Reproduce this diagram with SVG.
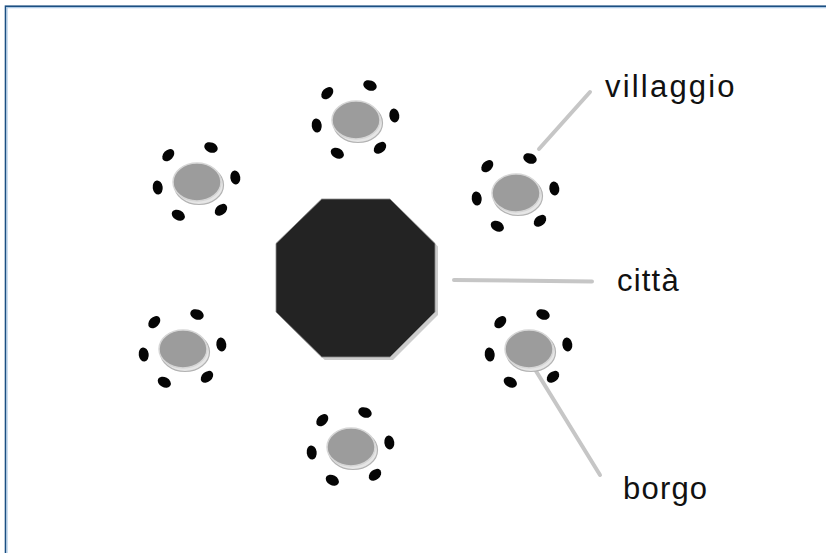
<svg xmlns="http://www.w3.org/2000/svg" xmlns:xlink="http://www.w3.org/1999/xlink" width="826" height="553" viewBox="0 0 826 553">
  <style>
    .frame-outer { fill: none; stroke: #1b4f82; stroke-width: 1.6; }
    .frame-inner { fill: none; stroke: #9dbfe0; stroke-width: 1; }
    .conn { stroke: #c6c6c6; stroke-width: 4; stroke-linecap: round; fill: none; }
    .lbl { font-family: "Liberation Sans", Arial, sans-serif; font-size: 31px; letter-spacing: 1.2px; fill: #111111; }
    .dot { fill: #050505; }
    .disc { fill: #9c9c9c; stroke: #d6d6d6; stroke-width: 1.5; }
    .disc-rim { fill: #e6e6e6; stroke: #b3b3b3; stroke-width: 1.2; }
    .oct { fill: #232323; stroke: #8a8a8a; stroke-width: 0.8; }
    .oct-shadow { fill: #cdcdcd; }
  </style>
  <defs>
    <g id="village">
      <ellipse class="disc-rim" cx="2" cy="3" rx="24.5" ry="19.5"/>
      <ellipse class="disc" cx="0" cy="0" rx="24" ry="19"/>
      <ellipse class="dot" cx="-28.7" cy="-26.8" rx="7" ry="5" transform="rotate(-47 -28.7 -26.8)"/>
      <ellipse class="dot" cx="14" cy="-34.5" rx="7" ry="5" transform="rotate(22 14 -34.5)"/>
      <ellipse class="dot" cx="38.3" cy="-4.5" rx="7" ry="5" transform="rotate(83 38.3 -4.5)"/>
      <ellipse class="dot" cx="24" cy="27.8" rx="7" ry="5" transform="rotate(-41 24 27.8)"/>
      <ellipse class="dot" cx="-18.7" cy="33.2" rx="7" ry="5" transform="rotate(29 -18.7 33.2)"/>
      <ellipse class="dot" cx="-39.3" cy="5.5" rx="7" ry="5" transform="rotate(82 -39.3 5.5)"/>
    </g>
  </defs>

  <rect width="826" height="553" fill="#ffffff"/>
  <rect class="frame-outer" x="5.5" y="6.2" width="900" height="600"/>
  <rect class="frame-inner" x="7" y="7.7" width="900" height="600"/>

  <g id="connectors">
    <line class="conn" x1="539" y1="149" x2="590" y2="92"/>
    <line class="conn" x1="454" y1="280" x2="592" y2="281.5"/>
    <line class="conn" x1="536" y1="371" x2="600" y2="475"/>
  </g>

  <g id="citta">
    <polygon class="oct-shadow" points="324.7,202 393,202 438,246.5 438,315 393,360 324.7,360 279,315 279,246.5"/>
    <polygon class="oct" points="321.7,199 390,199 435,243.5 435,312 390,357 321.7,357 276,312 276,243.5"/>
  </g>

  <g id="village-top"><use href="#village" xlink:href="#village" x="356" y="120"/></g>
  <g id="village-top-left"><use href="#village" xlink:href="#village" x="197" y="182"/></g>
  <g id="village-top-right"><use href="#village" xlink:href="#village" x="516" y="193"/></g>
  <g id="village-bottom-left"><use href="#village" xlink:href="#village" x="183" y="349"/></g>
  <g id="village-bottom"><use href="#village" xlink:href="#village" x="351" y="447"/></g>
  <g id="village-bottom-right"><use href="#village" xlink:href="#village" x="529" y="349"/></g>

  <g id="label-villaggio"><text class="lbl" x="605" y="97" style="letter-spacing:2.2px">villaggio</text></g>
  <g id="label-citta"><text class="lbl" x="617" y="291">città</text></g>
  <g id="label-borgo"><text class="lbl" x="623" y="499">borgo</text></g>
</svg>
